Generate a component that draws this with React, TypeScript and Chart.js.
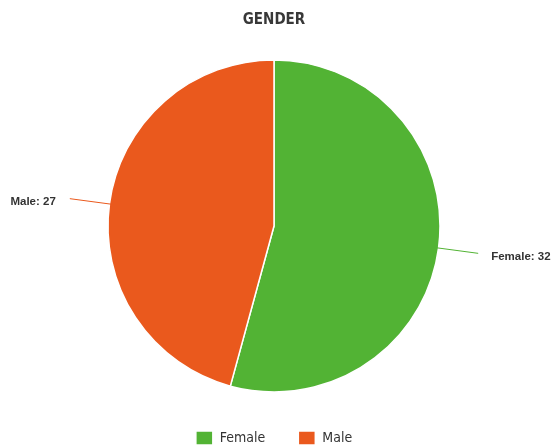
import React, { useEffect, useRef } from "react";
import { Chart, registerables } from "chart.js";

Chart.register(...registerables);

const categories = ["Female", "Male"];
const values = [32, 27];
const colors = ["#52b334", "#ea591d"];
const chartTitle = "GENDER";

const outsideLabels = {
  id: "outsideLabels",
  afterDatasetsDraw(chart: any) {
    const ctx = chart.ctx;
    const meta = chart.getDatasetMeta(0);
    meta.data.forEach((arc: any, i: number) => {
      const { x, y, startAngle, endAngle, outerRadius } = arc.getProps(
        ["x", "y", "startAngle", "endAngle", "outerRadius"],
        true
      );
      const mid = (startAngle + endAngle) / 2;
      const cos = Math.cos(mid);
      const sin = Math.sin(mid);
      const x1 = x + cos * (outerRadius - 2);
      const y1 = y + sin * (outerRadius - 2);
      const x2 = x + cos * (outerRadius + 40);
      const y2 = y + sin * (outerRadius + 40);
      ctx.save();
      ctx.strokeStyle = colors[i];
      ctx.lineWidth = 1;
      ctx.beginPath();
      ctx.moveTo(x1, y1);
      ctx.lineTo(x2, y2);
      ctx.stroke();
      ctx.font = "bold 11.5px 'Liberation Sans', Arial, sans-serif";
      ctx.fillStyle = "#333333";
      ctx.textBaseline = "middle";
      const right = cos >= 0;
      ctx.textAlign = right ? "left" : "right";
      ctx.fillText(
        `${categories[i]}: ${values[i]}`,
        x2 + (right ? 13 : -14),
        y2 + 3
      );
      ctx.restore();
    });
  },
};

export default function App() {
  const ref = useRef<HTMLCanvasElement>(null);
  useEffect(() => {
    document.body.style.margin = "0";
    const chart = new Chart(ref.current!, {
      type: "pie",
      data: {
        labels: categories,
        datasets: [
          {
            data: values,
            backgroundColor: colors,
            borderColor: "#ffffff",
            borderWidth: 1.5,
            radius: 166,
          },
        ],
      },
      options: {
        animation: false,
        responsive: false,
        layout: { padding: { left: 50, right: 55, top: 0, bottom: 0 } },
        plugins: {
          tooltip: { enabled: false },
          title: {
            display: true,
            text: chartTitle,
            color: "#383838",
            font: {
              family: "'DejaVu Sans Condensed', sans-serif",
              size: 15,
              weight: "bold",
            },
            padding: { top: 11, bottom: 25 },
          },
          legend: {
            position: "bottom",
            labels: {
              boxWidth: 17,
              boxHeight: 14,
              padding: 33,
              color: "#333333",
              font: { family: "'DejaVu Sans Condensed', sans-serif", size: 14 },
            },
          },
        },
      },
      plugins: [outsideLabels],
    });
    return () => chart.destroy();
  }, []);
  return (
    <div style={{ width: 553, height: 447, background: "#fff", overflow: "hidden" }}>
      <canvas ref={ref} width={553} height={455} style={{ display: "block" }} />
    </div>
  );
}
